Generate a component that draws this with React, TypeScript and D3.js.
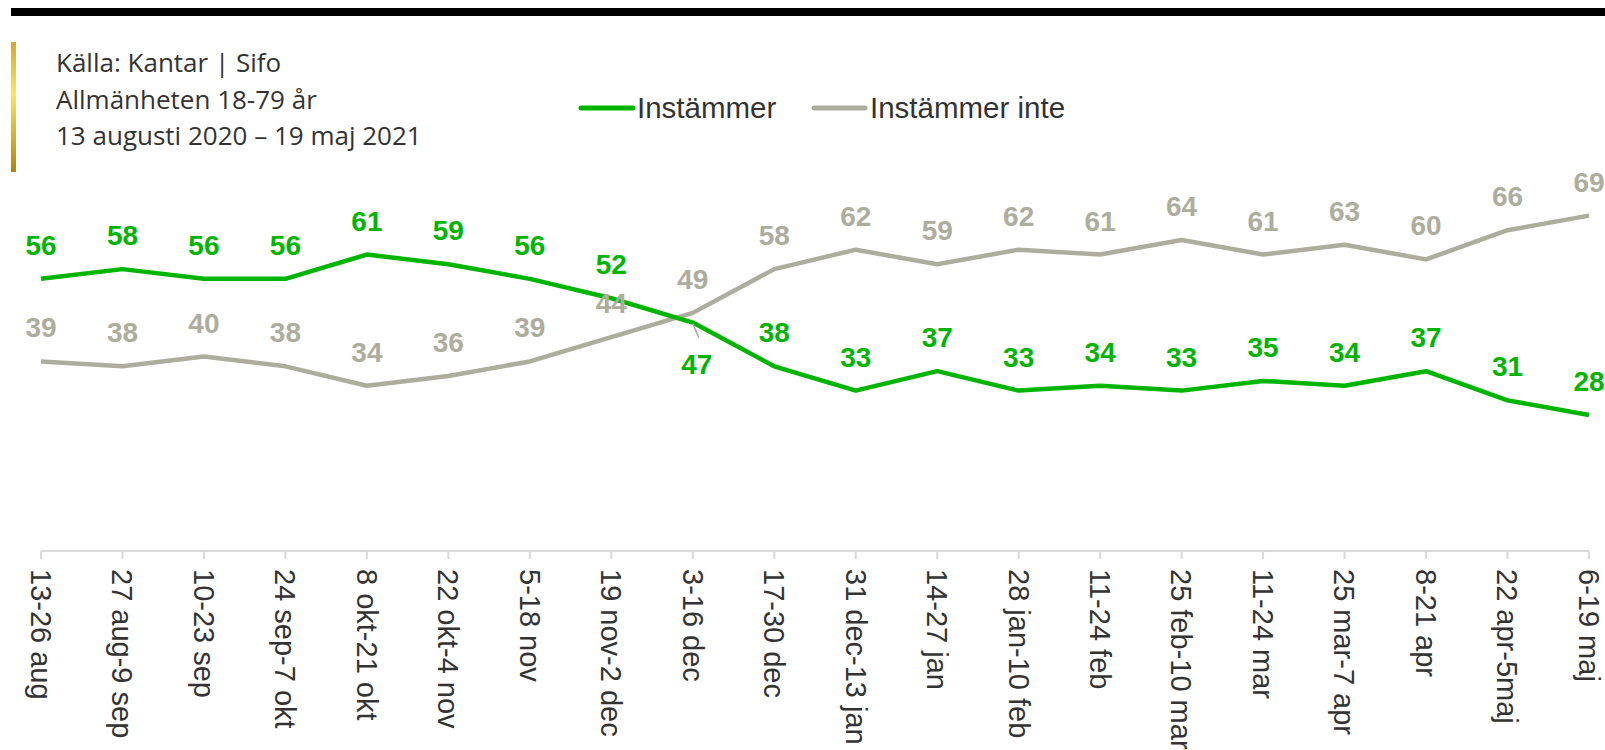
import React from "react";
import * as d3 from "d3";

const categories = [
  "13-26 aug", "27 aug-9 sep", "10-23 sep", "24 sep-7 okt", "8 okt-21 okt",
  "22 okt-4 nov", "5-18 nov", "19 nov-2 dec", "3-16 dec", "17-30 dec",
  "31 dec-13 jan", "14-27 jan", "28 jan-10 feb", "11-24 feb", "25 feb-10 mar",
  "11-24 mar", "25 mar-7 apr", "8-21 apr", "22 apr-5maj", "6-19 maj",
];
const instammer = [56, 58, 56, 56, 61, 59, 56, 52, 47, 38, 33, 37, 33, 34, 33, 35, 34, 37, 31, 28];
const instammerInte = [39, 38, 40, 38, 34, 36, 39, 44, 49, 58, 62, 59, 62, 61, 64, 61, 63, 60, 66, 69];
const sourceLines = ["Källa: Kantar | Sifo", "Allmänheten 18-79 år", "13 augusti 2020 – 19 maj 2021"];

const W = 1605;
const H = 750;
const GREEN = "#00b400";
const GREY = "#adad9d";

const x = d3.scalePoint<string>().domain(categories).range([41, 1589]);
const y = d3.scaleLinear().domain([0, 100]).range([551, 65]);

const line = d3.line<number>()
  .x((_, i) => x(categories[i]) as number)
  .y(d => y(d));

function Labels({ values, color, below = [] }: { values: number[]; color: string; below?: number[] }) {
  return (
    <g fill={color} fontFamily="'Liberation Sans', Arial, sans-serif" fontWeight="bold" fontSize={28} textAnchor="middle">
      {values.map((v, i) => {
        const isBelow = below.includes(i);
        const px = x(categories[i]) as number;
        return (
          <text key={i} x={isBelow ? px + 4 : px} y={isBelow ? y(v) + 51 : y(v) - 24}>{v}</text>
        );
      })}
    </g>
  );
}

export default function App() {
  const i47 = 8;
  const lx = x(categories[i47]) as number;
  const ly = y(instammer[i47]);
  return (
    <svg width={W} height={H} style={{ position: "absolute", left: 0, top: 0, display: "block" }}>
      <defs>
        <linearGradient id="gold" x1="0" y1="0" x2="0" y2="1">
          <stop offset="0" stopColor="#d6a62e" />
          <stop offset="0.4" stopColor="#fde45c" />
          <stop offset="1" stopColor="#b5830f" />
        </linearGradient>
      </defs>
      <rect x={0} y={0} width={W} height={H} fill="#fff" />
      <rect x={11} y={8} width={W - 11} height={8} fill="#000" />
      <rect x={11} y={42} width={5} height={130} fill="url(#gold)" />
      <g fontFamily="'Open Sans', sans-serif" fontSize={26} fill="#333">
        {sourceLines.map((t, i) => (
          <text key={i} x={56} y={72 + i * 36.5}>{t}</text>
        ))}
      </g>

      {/* legend */}
      <g fontFamily="'Liberation Sans', Arial, sans-serif" fontSize={29.5} fill="#333">
        <line x1={581} x2={633} y1={108} y2={108} stroke={GREEN} strokeWidth={5} strokeLinecap="round" />
        <text x={637} y={118}>Instämmer</text>
        <line x1={814} x2={865} y1={108} y2={108} stroke={GREY} strokeWidth={5} strokeLinecap="round" />
        <text x={870} y={118}>Instämmer inte</text>
      </g>

      {/* x axis */}
      <g stroke="#d9d9d9" strokeWidth={2}>
        <line x1={x(categories[0])} x2={x(categories[categories.length - 1])} y1={y(0)} y2={y(0)} />
        {categories.map(c => (
          <line key={c} x1={x(c)} x2={x(c)} y1={y(0)} y2={y(0) + 8} />
        ))}
      </g>
      <g fontFamily="'Liberation Sans', Arial, sans-serif" fontSize={29} fill="#333">
        {categories.map(c => (
          <text key={c} transform={`translate(${x(c)},${y(0) + 18}) rotate(90)`} dy="0.35em">{c}</text>
        ))}
      </g>

      <path d={line(instammerInte) || ""} fill="none" stroke={GREY} strokeWidth={4.5} strokeLinejoin="round" />
      <path d={line(instammer) || ""} fill="none" stroke={GREEN} strokeWidth={4.5} strokeLinejoin="round" />
      <line x1={lx} y1={ly + 1} x2={lx + 6} y2={ly + 15} stroke="#a8a8b8" strokeWidth={1.5} />

      <Labels values={instammerInte} color={GREY} />
      <Labels values={instammer} color={GREEN} below={[i47]} />
    </svg>
  );
}
